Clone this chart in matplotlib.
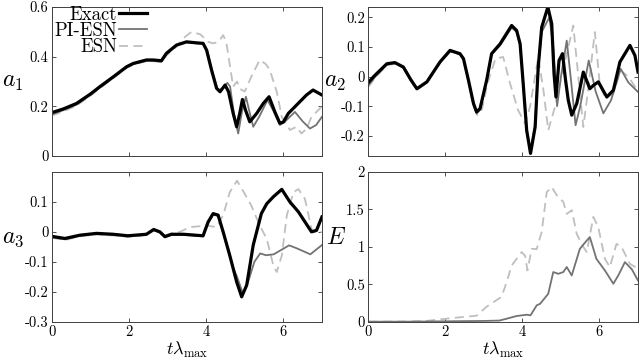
import matplotlib
matplotlib.use('Agg')
import matplotlib.pyplot as plt

# Fonts: LaTeX-like look
plt.rcParams['font.family'] = 'cmr10'
plt.rcParams['mathtext.fontset'] = 'cm'
plt.rcParams['axes.unicode_minus'] = False

# ---- a1 ----
a1_t_exact = [0, 0.3, 0.64, 1.0, 1.24, 1.6, 1.94, 2.11, 2.45, 2.63, 2.84, 2.97, 3.23, 3.49, 3.75, 3.92, 4.01,
              4.14, 4.27, 4.36, 4.49, 4.58, 4.70, 4.79, 4.87, 4.94, 5.02, 5.13, 5.31, 5.48, 5.63, 5.78, 5.91,
              6.0, 6.13, 6.34, 6.6, 6.77, 7.0]
a1_exact = [0.175, 0.19, 0.212, 0.25, 0.279, 0.32, 0.36, 0.373, 0.387, 0.387, 0.384, 0.414, 0.447, 0.46, 0.456,
            0.454, 0.427, 0.346, 0.273, 0.259, 0.286, 0.259, 0.172, 0.118, 0.172, 0.228, 0.185, 0.138, 0.172,
            0.212, 0.239, 0.178, 0.132, 0.137, 0.172, 0.205, 0.246, 0.266, 0.246]
a1_t_pi = [0, 0.3, 0.64, 1.0, 1.24, 1.6, 1.94, 2.11, 2.45, 2.63, 2.84, 2.97, 3.23, 3.49, 3.75, 3.92, 4.03, 4.16,
           4.30, 4.40, 4.55, 4.62, 4.72, 4.83, 4.93, 5.03, 5.12, 5.22, 5.38, 5.59, 5.75, 5.91, 6.05, 6.3, 6.5,
           6.69, 6.85, 7.0]
a1_pi = [0.168, 0.185, 0.207, 0.246, 0.275, 0.317, 0.357, 0.37, 0.384, 0.384, 0.38, 0.41, 0.445, 0.458, 0.454,
         0.452, 0.425, 0.34, 0.265, 0.27, 0.295, 0.28, 0.17, 0.091, 0.18, 0.239, 0.18, 0.118, 0.16, 0.226, 0.18,
         0.125, 0.14, 0.178, 0.14, 0.111, 0.125, 0.158]
a1_t_esn = [0, 0.3, 0.64, 1.0, 1.24, 1.6, 1.94, 2.11, 2.45, 2.63, 2.84, 2.97, 3.23, 3.45, 3.62, 3.85, 4.05, 4.18,
            4.32, 4.44, 4.52, 4.62, 4.70, 4.80, 4.88, 5.0, 5.2, 5.39, 5.55, 5.65, 5.83, 5.96, 6.17, 6.34, 6.47,
            6.6, 6.73, 7.0]
a1_esn = [0.163, 0.18, 0.203, 0.243, 0.272, 0.315, 0.355, 0.368, 0.382, 0.382, 0.378, 0.405, 0.44, 0.48, 0.5,
          0.49, 0.46, 0.454, 0.46, 0.487, 0.46, 0.36, 0.28, 0.3, 0.27, 0.26, 0.33, 0.387, 0.37, 0.346, 0.259,
          0.158, 0.105, 0.118, 0.091, 0.11, 0.158, 0.2]

# ---- a2 ----
a2_t_exact = [0, 0.17, 0.48, 0.69, 0.91, 1.1, 1.26, 1.52, 1.86, 2.12, 2.38, 2.47, 2.6, 2.73, 2.81, 2.9, 3.07,
              3.2, 3.42, 3.72, 3.85, 3.94, 4.02, 4.11, 4.21, 4.33, 4.41, 4.5, 4.66, 4.76, 4.82, 4.87, 4.95,
              5.04, 5.12, 5.19, 5.28, 5.41, 5.58, 5.75, 5.84, 5.97, 6.19, 6.36, 6.53, 6.79, 6.92, 7.0]
a2_exact = [-0.02, 0.004, 0.043, 0.047, 0.032, -0.01, -0.041, -0.018, 0.049, 0.088, 0.077, 0.06, -0.013, -0.091,
            -0.119, -0.108, -0.013, 0.077, 0.11, 0.172, 0.155, 0.11, -0.024, -0.181, -0.259, -0.17, 0.032,
            0.166, 0.234, 0.178, 0.01, -0.069, 0.054, 0.077, -0.013, -0.08, -0.13, -0.091, 0.015, -0.041,
            -0.03, -0.018, -0.069, -0.046, 0.049, 0.105, 0.071, 0.015]
a2_t_pi = [0, 0.17, 0.48, 0.69, 0.91, 1.1, 1.26, 1.52, 1.86, 2.12, 2.38, 2.47, 2.6, 2.73, 2.81, 2.9, 3.07, 3.2,
           3.42, 3.72, 3.85, 3.94, 4.02, 4.11, 4.21, 4.33, 4.41, 4.5, 4.7, 4.8, 4.9, 5.0, 5.15, 5.25, 5.38,
           5.5, 5.72, 5.9, 6.1, 6.3, 6.55, 6.75, 7.0]
a2_pi = [-0.03, -0.002, 0.04, 0.045, 0.03, -0.012, -0.043, -0.02, 0.047, 0.085, 0.075, 0.058, -0.015, -0.095,
         -0.125, -0.112, -0.015, 0.075, 0.105, 0.165, 0.15, 0.105, -0.03, -0.185, -0.255, -0.16, 0.03, 0.15,
         0.2, 0.1, -0.1, 0.0, 0.121, 0.0, -0.164, -0.1, 0.054, -0.05, -0.124, -0.08, 0.026, -0.02, -0.052]
a2_t_esn = [0, 0.17, 0.48, 0.69, 0.91, 1.1, 1.26, 1.52, 1.86, 2.12, 2.38, 2.47, 2.6, 2.73, 2.83, 2.95, 3.1, 3.3,
            3.5, 3.68, 3.89, 4.07, 4.2, 4.41, 4.55, 4.67, 4.85, 5.05, 5.32, 5.45, 5.58, 5.7, 5.88, 6.01, 6.15,
            6.35, 6.55, 6.75, 7.0]
a2_esn = [-0.035, -0.005, 0.038, 0.043, 0.028, -0.014, -0.045, -0.022, 0.045, 0.083, 0.073, 0.055, -0.02, -0.1,
          -0.13, -0.11, -0.02, 0.06, 0.066, -0.024, -0.114, -0.158, -0.1, 0.066, -0.05, -0.181, -0.1, 0.02,
          0.172, 0.0, -0.17, -0.05, 0.15, -0.03, -0.07, -0.06, 0.02, 0.0, -0.05]

# ---- a3 ----
a3_t_exact = [0, 0.34, 0.73, 1.16, 1.59, 1.97, 2.45, 2.64, 2.8, 2.93, 3.1, 3.41, 3.92, 4.05, 4.18, 4.31, 4.44,
              4.61, 4.79, 4.92, 5.05, 5.22, 5.43, 5.57, 5.74, 5.96, 6.17, 6.39, 6.73, 6.86, 7.0]
a3_exact = [-0.015, -0.022, -0.011, -0.005, -0.008, -0.013, -0.008, 0.008, 0.0, -0.016, -0.008, -0.008, -0.013,
            0.033, 0.061, 0.056, 0.0, -0.078, -0.167, -0.217, -0.178, -0.044, 0.061, 0.094, 0.117, 0.142,
            0.1, 0.067, 0.0, 0.005, 0.05]
a3_t_pi = [0, 0.34, 0.73, 1.16, 1.59, 1.97, 2.45, 2.64, 2.8, 2.93, 3.1, 3.41, 3.92, 4.05, 4.18, 4.31, 4.44,
           4.6, 4.7, 4.8, 4.95, 5.08, 5.25, 5.4, 5.55, 5.75, 5.95, 6.15, 6.35, 6.7, 7.0]
a3_pi = [-0.018, -0.025, -0.013, -0.007, -0.01, -0.015, -0.01, 0.006, -0.002, -0.018, -0.01, -0.01, -0.015,
         0.03, 0.058, 0.053, -0.002, -0.07, -0.12, -0.15, -0.205, -0.17, -0.1, -0.072, -0.078, -0.075, -0.06,
         -0.045, -0.055, -0.075, -0.044]
a3_t_esn = [0, 0.34, 0.73, 1.16, 1.59, 1.97, 2.45, 2.64, 2.8, 2.93, 3.1, 3.32, 3.58, 4.01, 4.27, 4.44, 4.61,
            4.8, 5.0, 5.17, 5.39, 5.57, 5.74, 5.83, 5.96, 6.09, 6.26, 6.39, 6.56, 6.73, 6.86, 7.0]
a3_esn = [-0.02, -0.027, -0.015, -0.009, -0.012, -0.017, -0.011, 0.005, -0.003, -0.012, -0.005, 0.0, 0.016,
          0.021, 0.016, 0.055, 0.132, 0.171, 0.127, 0.088, 0.021, -0.023, -0.112, -0.134, -0.079, 0.055,
          0.132, 0.143, 0.11, 0.01, -0.005, 0.0]

# ---- E (error) ----
e_t_pi = [0, 1.0, 2.0, 3.0, 3.4, 3.59, 3.85, 4.11, 4.21, 4.37, 4.46, 4.67, 4.8, 4.93, 5.06, 5.15, 5.28, 5.49,
          5.67, 5.75, 5.92, 6.14, 6.36, 6.49, 6.66, 6.84, 7.0]
e_pi = [0.0, 0.0, 0.005, 0.01, 0.015, 0.04, 0.076, 0.093, 0.085, 0.218, 0.24, 0.373, 0.663, 0.64, 0.663, 0.73,
        0.618, 0.973, 1.085, 1.13, 0.84, 0.685, 0.507, 0.62, 0.796, 0.7, 0.55]
e_t_esn = [0, 1.0, 1.5, 1.95, 2.4, 2.81, 3.07, 3.46, 3.59, 3.72, 3.98, 4.07, 4.13, 4.24, 4.37, 4.5, 4.63, 4.76,
           4.89, 5.06, 5.15, 5.28, 5.41, 5.58, 5.67, 5.84, 5.97, 6.14, 6.27, 6.44, 6.57, 6.79, 7.0]
e_esn = [0.0, 0.003, 0.01, 0.036, 0.06, 0.08, 0.2, 0.333, 0.53, 0.75, 0.93, 0.88, 0.685, 0.973, 0.97, 1.2,
         1.73, 1.8, 1.69, 1.6, 1.44, 1.49, 1.17, 1.0, 0.93, 1.4, 1.26, 0.84, 0.73, 1.04, 1.0, 0.773, 0.707]

# Axis ticks
x_ticks = [0, 2, 4, 6]
a1_ticks = [0, 0.2, 0.4, 0.6]
a2_ticks = [-0.2, -0.1, 0, 0.1, 0.2]
a3_ticks = [-0.3, -0.2, -0.1, 0, 0.1]
e_ticks = [0, 0.5, 1, 1.5, 2]

EXACT_KW = dict(color='black', lw=2.3)
PI_KW = dict(color='0.45', lw=1.3)
ESN_KW = dict(color='0.75', lw=1.3, dashes=(5, 3))


def fmt(v):
    return '%g' % v


def style_axes(ax, yticks, ylim, label, lab_x, lab_y):
    ax.set_xlim(0, 7)
    ax.set_ylim(*ylim)
    ax.set_xticks(x_ticks)
    ax.set_yticks(yticks)
    ax.set_yticklabels([fmt(v) for v in yticks])
    ax.tick_params(direction='in', top=True, right=True, labelsize=10.5, length=3, width=0.6,
                   color='0.2', pad=2.5)
    for sp in ax.spines.values():
        sp.set_linewidth(0.7)
        sp.set_color('0.25')
    ax.set_ylabel(label, fontsize=17, rotation=0, ha='center', va='center')
    ax.yaxis.set_label_coords(lab_x, lab_y)


fig = plt.figure(figsize=(6.4, 3.63), dpi=100)
ax1 = fig.add_axes([0.081, 0.570, 0.422, 0.4105])
ax2 = fig.add_axes([0.5755, 0.570, 0.4214, 0.4105])
ax3 = fig.add_axes([0.081, 0.1138, 0.422, 0.4124])
ax4 = fig.add_axes([0.5755, 0.1138, 0.4214, 0.4124])

# a1
ax1.plot(a1_t_esn, a1_esn, **ESN_KW)
ax1.plot(a1_t_pi, a1_pi, **PI_KW)
ax1.plot(a1_t_exact, a1_exact, **EXACT_KW)
style_axes(ax1, a1_ticks, (0, 0.6), r'$a_1$', -0.145, 0.5)
ax1.set_xticklabels([])
h_ex, = ax1.plot([], [], label='Exact', **EXACT_KW)
h_pi, = ax1.plot([], [], label='PI-ESN', **PI_KW)
h_esn, = ax1.plot([], [], label='ESN', **ESN_KW)
ax1.legend(handles=[h_ex, h_pi, h_esn], loc='upper left', bbox_to_anchor=(-0.005, 1.035),
           frameon=False, markerfirst=False, fontsize=13.5, handlelength=1.5, handletextpad=0.1,
           labelspacing=-0.08, borderpad=0.2, borderaxespad=0)

# a2
ax2.plot(a2_t_esn, a2_esn, **ESN_KW)
ax2.plot(a2_t_pi, a2_pi, **PI_KW)
ax2.plot(a2_t_exact, a2_exact, **EXACT_KW)
style_axes(ax2, a2_ticks, (-0.268, 0.234), r'$a_2$', -0.125, 0.5)
ax2.set_xticklabels([])

# a3
ax3.plot(a3_t_esn, a3_esn, **ESN_KW)
ax3.plot(a3_t_pi, a3_pi, **PI_KW)
ax3.plot(a3_t_exact, a3_exact, **EXACT_KW)
style_axes(ax3, a3_ticks, (-0.3, 0.2), r'$a_3$', -0.145, 0.56)
ax3.set_xticklabels([fmt(v) for v in x_ticks])
ax3.set_xlabel(r'$t\lambda_{\max}$', fontsize=13, labelpad=1)

# E
ax4.plot(e_t_esn, e_esn, **ESN_KW)
ax4.plot(e_t_pi, e_pi, **PI_KW)
style_axes(ax4, e_ticks, (0, 2), r'$E$', -0.12, 0.56)
ax4.set_xticklabels([fmt(v) for v in x_ticks])
ax4.set_xlabel(r'$t\lambda_{\max}$', fontsize=13, labelpad=1)

fig.savefig('out.png', dpi=100)
